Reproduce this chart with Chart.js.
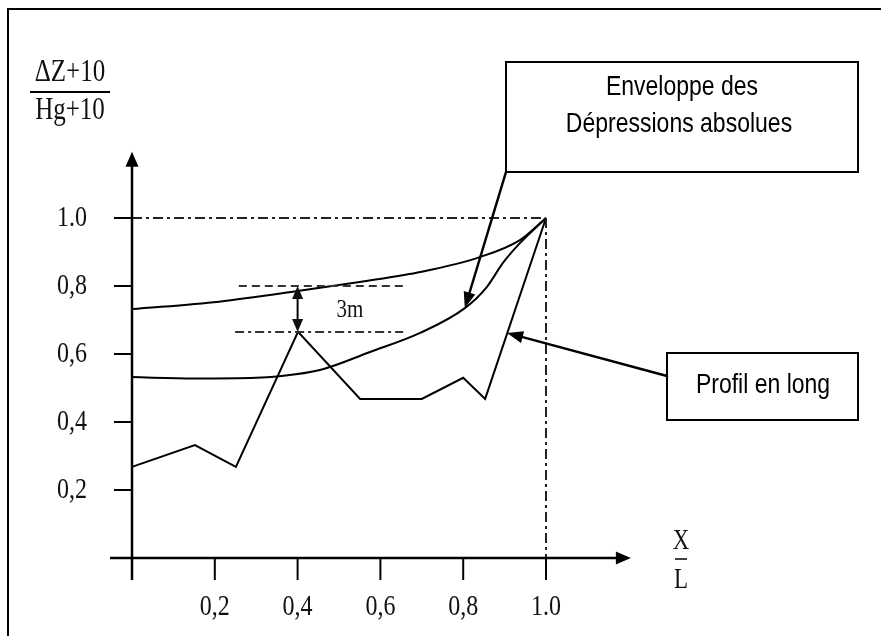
<!DOCTYPE html>
<html><head><meta charset="utf-8">
<script src="https://cdn.jsdelivr.net/npm/chart.js@4.4.1/dist/chart.umd.min.js"></script>
<style>html,body{margin:0;padding:0;background:#fff}#wrap{width:881px;height:636px;position:relative}canvas{display:block}</style>
</head><body><div id="wrap"><canvas id="c" width="881" height="636"></canvas></div>
<script>
// ---- data ----
const xTicks = [0.2, 0.4, 0.6, 0.8, 1.0];
const xTickLabels = ['0,2', '0,4', '0,6', '0,8', '1.0'];
const yTicks = [0.2, 0.4, 0.6, 0.8, 1.0];
const yTickLabels = ['0,2', '0,4', '0,6', '0,8', '1.0'];

const upperX = [0, 0.21, 0.4, 0.55, 0.7, 0.84, 0.937, 1.0];
const upperY = [0.732, 0.754, 0.785, 0.812, 0.842, 0.885, 0.935, 1.0];

const envX = [0, 0.15, 0.3, 0.35, 0.454, 0.575, 0.696, 0.804, 0.857, 0.896, 0.937, 1.0];
const envY = [0.532, 0.528, 0.53, 0.534, 0.553, 0.606, 0.662, 0.735, 0.797, 0.868, 0.926, 1.0];

const profX = [0, 0.152, 0.251, 0.401, 0.551, 0.70, 0.80, 0.853, 1.0];
const profY = [0.268, 0.332, 0.268, 0.665, 0.468, 0.468, 0.53, 0.468, 1.0];

const refTopX = [0, 1.0];       const refTopY = [1.0, 1.0];
const refRightX = [1.0, 1.0];   const refRightY = [1.0, 0];
const dashHiX = [0.258, 0.655]; const dashHiY = [0.8, 0.8];
const dashLoX = [0.249, 0.655]; const dashLoY = [0.665, 0.665];

const deltaX = 0.4, deltaTop = 0.8, deltaBottom = 0.665;
const deltaLabel = '3m';
const yTitleNum = 'ΔZ+10', yTitleDen = 'Hg+10';
const xTitleNum = 'X', xTitleDen = 'L';
const envBoxLines = ['Enveloppe des', 'Dépressions absolues'];
const profBoxText = 'Profil en long';
const envArrowTip = [0.804, 0.735];
const profArrowTip = [0.906, 0.662];

const pts = (xs, ys) => xs.map((x, i) => ({x: x, y: ys[i]}));

function ds(xs, ys, opts) {
  return Object.assign({data: pts(xs, ys), showLine: true, borderColor: '#000', borderWidth: 2,
    pointRadius: 0, fill: false, tension: 0, clip: false}, opts || {});
}

const SERIF = '"Liberation Serif", "DejaVu Serif", serif';
const SANS = '"Liberation Sans", Arial, sans-serif';

function stretchText(ctx, txt, x, y, font, align, sy) {
  ctx.save();
  ctx.font = font; ctx.textAlign = align; ctx.textBaseline = 'middle';
  ctx.translate(x, y); ctx.scale(1, sy);
  ctx.fillText(txt, 0, 0);
  ctx.restore();
}
function head(ctx, fx, fy, tx, ty, len, w) {
  const a = Math.atan2(ty - fy, tx - fx);
  ctx.save(); ctx.translate(tx, ty); ctx.rotate(a);
  ctx.beginPath(); ctx.moveTo(0, 0); ctx.lineTo(-len, -w / 2); ctx.lineTo(-len, w / 2); ctx.closePath();
  ctx.fill(); ctx.restore();
}

const deco = {
  id: 'deco',
  afterDatasetsDraw(chart) {
    const ctx = chart.ctx, xs = chart.scales.x, ys = chart.scales.y;
    const X = v => xs.getPixelForValue(v), Y = v => ys.getPixelForValue(v);
    ctx.save();
    ctx.fillStyle = '#000'; ctx.strokeStyle = '#000';
    // frame
    ctx.lineWidth = 2;
    ctx.beginPath(); ctx.moveTo(8, 636); ctx.lineTo(8, 9); ctx.lineTo(881, 9); ctx.stroke();
    // axes
    ctx.lineWidth = 2.5;
    const x0 = X(0), y0 = Y(0);
    ctx.beginPath(); ctx.moveTo(x0, 580); ctx.lineTo(x0, Y(1.16)); ctx.stroke();
    ctx.beginPath(); ctx.moveTo(110, y0); ctx.lineTo(X(1.17), y0); ctx.stroke();
    head(ctx, x0, Y(1.0), x0, Y(1.195), 15, 13);
    head(ctx, X(1.0), y0, X(1.205), y0, 15, 13);
    // ticks
    ctx.lineWidth = 2;
    yTicks.forEach(v => { ctx.beginPath(); ctx.moveTo(x0 - 18, Y(v)); ctx.lineTo(x0, Y(v)); ctx.stroke(); });
    xTicks.forEach(v => { ctx.beginPath(); ctx.moveTo(X(v), y0); ctx.lineTo(X(v), 580); ctx.stroke(); });
    // tick labels
    ctx.fillStyle = '#111';
    yTicks.forEach((v, i) => stretchText(ctx, yTickLabels[i], 72, Y(v), '24px ' + SERIF, 'center', 1.2));
    xTicks.forEach((v, i) => stretchText(ctx, xTickLabels[i], X(v), 607, '24px ' + SERIF, 'center', 1.2));
    // axis titles
    stretchText(ctx, yTitleNum, 70, 73, '25px ' + SERIF, 'center', 1.25);
    stretchText(ctx, yTitleDen, 70, 111, '25px ' + SERIF, 'center', 1.25);
    ctx.lineWidth = 2; ctx.beginPath(); ctx.moveTo(30, 92); ctx.lineTo(110, 92); ctx.stroke();
    stretchText(ctx, xTitleNum, 681, 541, '23px ' + SERIF, 'center', 1.25);
    stretchText(ctx, xTitleDen, 681, 580, '23px ' + SERIF, 'center', 1.25);
    ctx.lineWidth = 1.5; ctx.beginPath(); ctx.moveTo(675, 559); ctx.lineTo(687, 559); ctx.stroke();
    // 3m double arrow
    ctx.lineWidth = 2;
    const dx = X(deltaX), dT = Y(deltaTop), dB = Y(deltaBottom);
    ctx.beginPath(); ctx.moveTo(dx, dT + 10); ctx.lineTo(dx, dB - 10); ctx.stroke();
    head(ctx, dx, dB, dx, dT, 13, 11);
    head(ctx, dx, dT, dx, dB, 13, 11);
    stretchText(ctx, deltaLabel, 350, 310, '21px ' + SERIF, 'center', 1.2);
    // boxes
    ctx.lineWidth = 2;
    ctx.strokeRect(506, 62, 352, 110);
    ctx.strokeRect(667, 353, 191, 67);
    ctx.fillStyle = '#000';
    stretchText(ctx, envBoxLines[0], 682, 87, '23px ' + SANS, 'center', 1.2);
    stretchText(ctx, envBoxLines[1], 679, 124, '23px ' + SANS, 'center', 1.2);
    stretchText(ctx, profBoxText, 763, 385, '23px ' + SANS, 'center', 1.2);
    // callout arrows
    ctx.lineWidth = 2.5;
    const eTx = X(envArrowTip[0]), eTy = Y(envArrowTip[1]);
    ctx.beginPath(); ctx.moveTo(506, 172); ctx.lineTo(eTx + (506 - eTx) * 0.1, eTy + (172 - eTy) * 0.1); ctx.stroke();
    head(ctx, 506, 172, eTx, eTy, 16, 12);
    const pTx = X(profArrowTip[0]), pTy = Y(profArrowTip[1]);
    ctx.beginPath(); ctx.moveTo(667, 376); ctx.lineTo(pTx + (667 - pTx) * 0.08, pTy + (376 - pTy) * 0.08); ctx.stroke();
    head(ctx, 667, 376, pTx, pTy, 16, 12);
    ctx.restore();
  }
};

new Chart(document.getElementById('c'), {
  type: 'scatter',
  data: {
    datasets: [
      ds(refTopX, refTopY, {borderWidth: 2, borderDash: [10, 4, 3, 4], borderColor: '#222'}),
      ds(refRightX, refRightY, {borderWidth: 2, borderDash: [10, 4, 3, 4], borderColor: '#222'}),
      ds(dashHiX, dashHiY, {borderWidth: 2, borderDash: [8, 5], borderColor: '#333'}),
      ds(dashLoX, dashLoY, {borderWidth: 2, borderDash: [9, 4, 3, 4], borderColor: '#333'}),
      ds(upperX, upperY, {cubicInterpolationMode: 'monotone', tension: 0.4}),
      ds(envX, envY, {cubicInterpolationMode: 'monotone', tension: 0.4}),
      ds(profX, profY, {tension: 0})
    ]
  },
  options: {
    responsive: false, animation: false, devicePixelRatio: 1,
    layout: {padding: {left: 132, right: 335, top: 218, bottom: 78}},
    plugins: {legend: {display: false}, tooltip: {enabled: false}, title: {display: false}},
    scales: {
      x: {type: 'linear', min: 0, max: 1, display: false},
      y: {type: 'linear', min: 0, max: 1, display: false}
    },
    events: []
  },
  plugins: [deco]
});
</script>
</body></html>
